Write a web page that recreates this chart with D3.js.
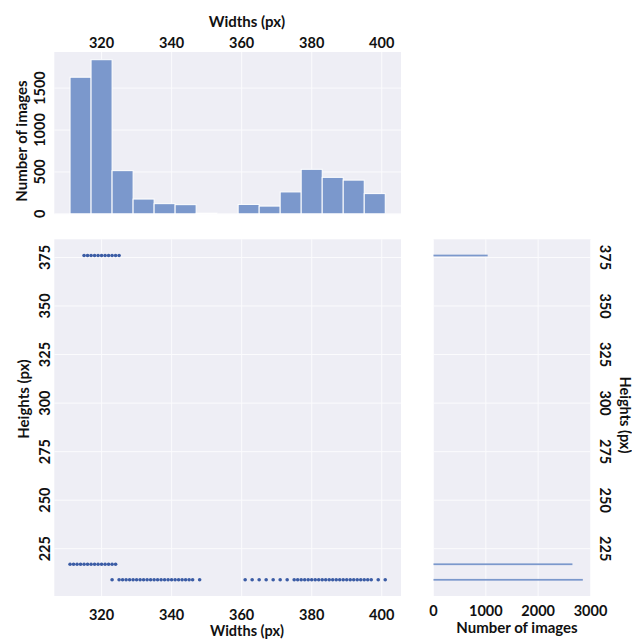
<!DOCTYPE html>
<html>
<head>
<meta charset="utf-8">
<script src="https://cdn.jsdelivr.net/npm/d3@7"></script>
<style>
  body { margin: 0; background: #fff; }
  text { font-family: Lato, "Open Sans", sans-serif; font-weight: bold; fill: #111; }
</style>
</head>
<body>
<div class="container-fluid"></div>
<script>
// top histogram : widths
var widthBinEdges = [311, 317, 323, 329, 335, 341, 347, 353, 359, 365, 371, 377, 383, 389, 395, 401];
var widthCounts = [1630, 1839, 515, 176, 121, 109, 7, 0, 112, 92, 261, 531, 435, 402, 241];

// right histogram : heights
var heightValues = [376, 217, 209];
var heightCounts = [1035, 2655, 2854];

// scatter rows (width values found at each height)
var row376 = [315, 316, 317, 318, 319, 320, 321, 322, 323, 324, 325];
var row217 = [311, 312, 313, 314, 315, 316, 317, 318, 319, 320, 321, 322, 323, 324];
var row209 = [323, 325, 326, 327, 328, 329, 330, 331, 332, 333, 334, 335, 336, 337, 338, 339, 340,
  341, 342, 343, 344, 345, 346, 348, 361, 363, 365, 367, 369, 371, 373, 375, 376, 377, 378, 379,
  380, 381, 382, 383, 384, 385, 386, 387, 388, 389, 390, 391, 392, 393, 394, 395, 396, 397, 399, 401];

var widthTicks = [320, 340, 360, 380, 400];
var countTicks = [0, 500, 1000, 1500];
var heightTicks = [225, 250, 275, 300, 325, 350, 375];
var heightCountTicks = [0, 1000, 2000, 3000];

var bg = "#eeeef5", barColor = "#7b98cc", dotColor = "#3b5ca5";

var svg = d3.select(".container-fluid")
  .append("svg")
    .attr("width", 632)
    .attr("height", 639);

// scales
var x = d3.scaleLinear().domain([306.5, 405.5]).range([54.3, 401]);
var yTop = d3.scaleLinear().domain([0, 1931]).range([213.8, 52]);
var y = d3.scaleLinear().domain([200.65, 384.35]).range([596, 239.3]);
var xRight = d3.scaleLinear().domain([0, 3010]).range([433.5, 591]);

// panel backgrounds
svg.append("rect").attr("x", x.range()[0]).attr("y", yTop.range()[1])
  .attr("width", x.range()[1] - x.range()[0]).attr("height", yTop.range()[0] - yTop.range()[1])
  .attr("fill", bg);
svg.append("rect").attr("x", x.range()[0]).attr("y", y.range()[1])
  .attr("width", x.range()[1] - x.range()[0]).attr("height", y.range()[0] - y.range()[1])
  .attr("fill", bg);
svg.append("rect").attr("x", xRight.range()[0]).attr("y", y.range()[1])
  .attr("width", xRight.range()[1] - xRight.range()[0]).attr("height", y.range()[0] - y.range()[1])
  .attr("fill", bg);

// grid lines
var grid = svg.append("g").attr("stroke", "#fbfbfd").attr("stroke-width", 1);
widthTicks.forEach(function(t) {
  grid.append("line").attr("x1", x(t)).attr("x2", x(t)).attr("y1", yTop.range()[1]).attr("y2", yTop.range()[0]);
  grid.append("line").attr("x1", x(t)).attr("x2", x(t)).attr("y1", y.range()[1]).attr("y2", y.range()[0]);
});
countTicks.forEach(function(t) {
  grid.append("line").attr("x1", x.range()[0]).attr("x2", x.range()[1]).attr("y1", yTop(t)).attr("y2", yTop(t));
});
heightTicks.forEach(function(t) {
  grid.append("line").attr("x1", x.range()[0]).attr("x2", x.range()[1]).attr("y1", y(t)).attr("y2", y(t));
  grid.append("line").attr("x1", xRight.range()[0]).attr("x2", xRight.range()[1]).attr("y1", y(t)).attr("y2", y(t));
});
heightCountTicks.forEach(function(t) {
  grid.append("line").attr("x1", xRight(t)).attr("x2", xRight(t)).attr("y1", y.range()[1]).attr("y2", y.range()[0]);
});

// top histogram bars
svg.append("g")
  .selectAll("rect")
  .data(widthCounts)
  .enter()
  .append("rect")
    .attr("x", function(d, i){ return x(widthBinEdges[i]) })
    .attr("width", function(d, i){ return x(widthBinEdges[i + 1]) - x(widthBinEdges[i]) })
    .attr("y", function(d){ return yTop(d) })
    .attr("height", function(d){ return yTop(0) - yTop(d) })
    .attr("fill", barColor)
    .attr("stroke", "#fff")
    .attr("stroke-width", 1);

// right histogram (thin bars)
svg.append("g")
  .selectAll("rect")
  .data(heightCounts)
  .enter()
  .append("rect")
    .attr("x", xRight(0))
    .attr("width", function(d){ return xRight(d) - xRight(0) })
    .attr("y", function(d, i){ return y(heightValues[i] + 0.45) })
    .attr("height", function(d, i){ return y(heightValues[i] - 0.45) - y(heightValues[i] + 0.45) })
    .attr("fill", barColor);

// scatter dots
var points = [];
row376.forEach(function(w){ points.push([w, 376]) });
row217.forEach(function(w){ points.push([w, 217]) });
row209.forEach(function(w){ points.push([w, 209]) });

svg.append("g")
  .selectAll("circle")
  .data(points)
  .enter()
  .append("circle")
    .attr("cx", function(d){ return x(d[0]) })
    .attr("cy", function(d){ return y(d[1]) })
    .attr("r", 1.8)
    .attr("fill", dotColor);

// tick labels
var fs = 14.5;
widthTicks.forEach(function(t) {
  svg.append("text").attr("x", x(t)).attr("y", 48).attr("text-anchor", "middle").attr("font-size", fs).text(t);
  svg.append("text").attr("x", x(t)).attr("y", 619.5).attr("text-anchor", "middle").attr("font-size", fs).text(t);
});
countTicks.forEach(function(t) {
  svg.append("text").attr("transform", "translate(45," + yTop(t) + ") rotate(-90)")
    .attr("text-anchor", "middle").attr("font-size", fs).text(t);
});
heightTicks.forEach(function(t) {
  svg.append("text").attr("transform", "translate(49.5," + y(t) + ") rotate(-90)")
    .attr("text-anchor", "middle").attr("font-size", fs).text(t);
  svg.append("text").attr("transform", "translate(600," + y(t) + ") rotate(90)")
    .attr("text-anchor", "middle").attr("font-size", fs).text(t);
});
heightCountTicks.forEach(function(t) {
  svg.append("text").attr("x", xRight(t)).attr("y", 615.5).attr("text-anchor", "middle").attr("font-size", fs).text(t);
});

// axis titles
svg.append("text").attr("x", 247).attr("y", 27).attr("text-anchor", "middle").attr("font-size", 15).text("Widths (px)");
svg.append("text").attr("x", 247).attr("y", 635.5).attr("text-anchor", "middle").attr("font-size", 14.5).text("Widths (px)");
svg.append("text").attr("transform", "translate(27,141) rotate(-90)")
  .attr("text-anchor", "middle").attr("font-size", 15).text("Number of images");
svg.append("text").attr("transform", "translate(29,399) rotate(-90)")
  .attr("text-anchor", "middle").attr("font-size", 15).text("Heights (px)");
svg.append("text").attr("transform", "translate(619.5,415) rotate(90)")
  .attr("text-anchor", "middle").attr("font-size", 14.5).text("Heights (px)");
svg.append("text").attr("x", 517).attr("y", 633).attr("text-anchor", "middle").attr("font-size", 15).text("Number of images");
</script>
</body>
</html>
